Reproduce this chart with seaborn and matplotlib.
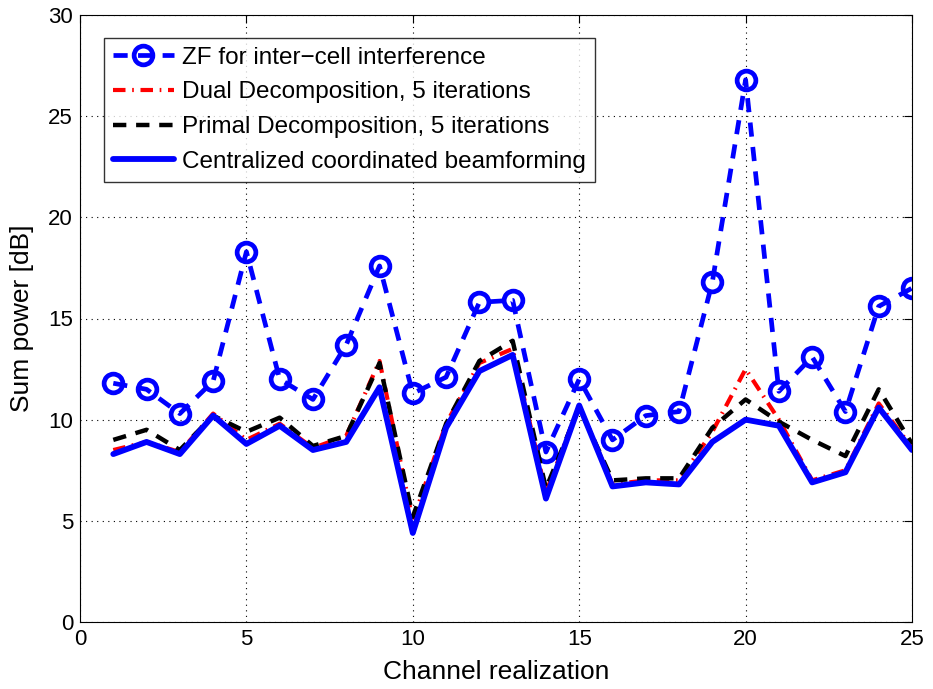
import numpy as np
import pandas as pd
import matplotlib
matplotlib.use("Agg")
import matplotlib.pyplot as plt
import seaborn as sns

realization = list(range(1, 26))
zf = [11.8, 11.5, 10.3, 11.9, 18.3, 12.0, 11.0, 13.7, 17.6, 11.3, 12.1, 15.8, 15.9,
      8.4, 12.0, 9.0, 10.2, 10.4, 16.8, 26.8, 11.4, 13.1, 10.4, 15.6, 16.5]
dual = [8.5, 8.9, 8.4, 10.3, 9.0, 9.8, 8.6, 9.2, 12.9, 5.0, 9.8, 12.8, 13.5,
        6.4, 10.7, 6.8, 7.0, 7.0, 9.4, 12.5, 10.0, 7.0, 7.5, 10.8, 8.6]
primal = [9.0, 9.5, 8.5, 10.2, 9.4, 10.1, 8.7, 9.2, 12.8, 5.2, 9.8, 12.9, 13.9,
          6.6, 10.6, 7.0, 7.1, 7.1, 9.6, 11.0, 9.9, 9.0, 8.2, 11.5, 8.8]
central = [8.3, 8.9, 8.3, 10.2, 8.8, 9.7, 8.5, 8.9, 11.6, 4.4, 9.6, 12.4, 13.2,
           6.1, 10.7, 6.7, 6.9, 6.8, 8.9, 10.0, 9.7, 6.9, 7.4, 10.6, 8.5]

labels = ["ZF for inter\u2212cell interference",
          "Dual Decomposition, 5 iterations",
          "Primal Decomposition, 5 iterations",
          "Centralized coordinated beamforming"]
xticks = [0, 5, 10, 15, 20, 25]
yticks = [0, 5, 10, 15, 20, 25, 30]

sns.set_style("white")
plt.rcParams['font.family'] = ['Liberation Sans', 'DejaVu Sans']
plt.rcParams['text.color'] = 'black'
plt.rcParams['axes.labelcolor'] = 'black'
plt.rcParams['xtick.color'] = 'black'
plt.rcParams['ytick.color'] = 'black'

fig = plt.figure(figsize=(9.33, 6.89), dpi=100)
ax = fig.add_axes([80/933, 67/689, 832/933, 607/689])

df = pd.DataFrame({"x": realization, "zf": zf, "dual": dual,
                   "primal": primal, "central": central})

sns.lineplot(data=df, x="x", y="zf", ax=ax, color="#0000ff", lw=3.4,
             marker="o", markersize=13.5, markerfacecolor="none",
             markeredgecolor="#0000ff", markeredgewidth=3.4,
             dashes=False, label=labels[0])
ax.lines[-1].set_dashes((3, 2.2))
sns.lineplot(data=df, x="x", y="dual", ax=ax, color="#ff0000", lw=3,
             label=labels[1])
ax.lines[-1].set_dashes((3, 1.6, 0.4, 1.6))
sns.lineplot(data=df, x="x", y="primal", ax=ax, color="black", lw=3.2,
             label=labels[2])
ax.lines[-1].set_dashes((3, 2.2))
sns.lineplot(data=df, x="x", y="central", ax=ax, color="#0000ff", lw=4.2,
             label=labels[3])

ax.set_xlim(0, 25)
ax.set_ylim(0, 30)
ax.set_xticks(xticks)
ax.set_yticks(yticks)
ax.tick_params(direction="in", top=True, right=True, labelsize=16, length=6,
               width=0.8, colors="black", pad=5)
ax.grid(True, linestyle=(0, (1, 4)), color="black", lw=0.8)
for s in ax.spines.values():
    s.set_visible(True)
    s.set_color("black")
    s.set_linewidth(0.8)
ax.set_xlabel("Channel realization", fontsize=19, labelpad=7, color="black")
ax.set_ylabel("Sum power [dB]", fontsize=19, labelpad=10, color="black")

leg = ax.legend(loc="upper left", bbox_to_anchor=(0.029, 0.962), fontsize=17.5,
                frameon=True, fancybox=False, edgecolor="black",
                handlelength=2.5, borderpad=0.36, labelspacing=0.52,
                handletextpad=0.35, borderaxespad=0)
leg.get_frame().set_linewidth(1.0)
for t in leg.get_texts():
    t.set_color("black")

fig.savefig("out.png", dpi=100)
